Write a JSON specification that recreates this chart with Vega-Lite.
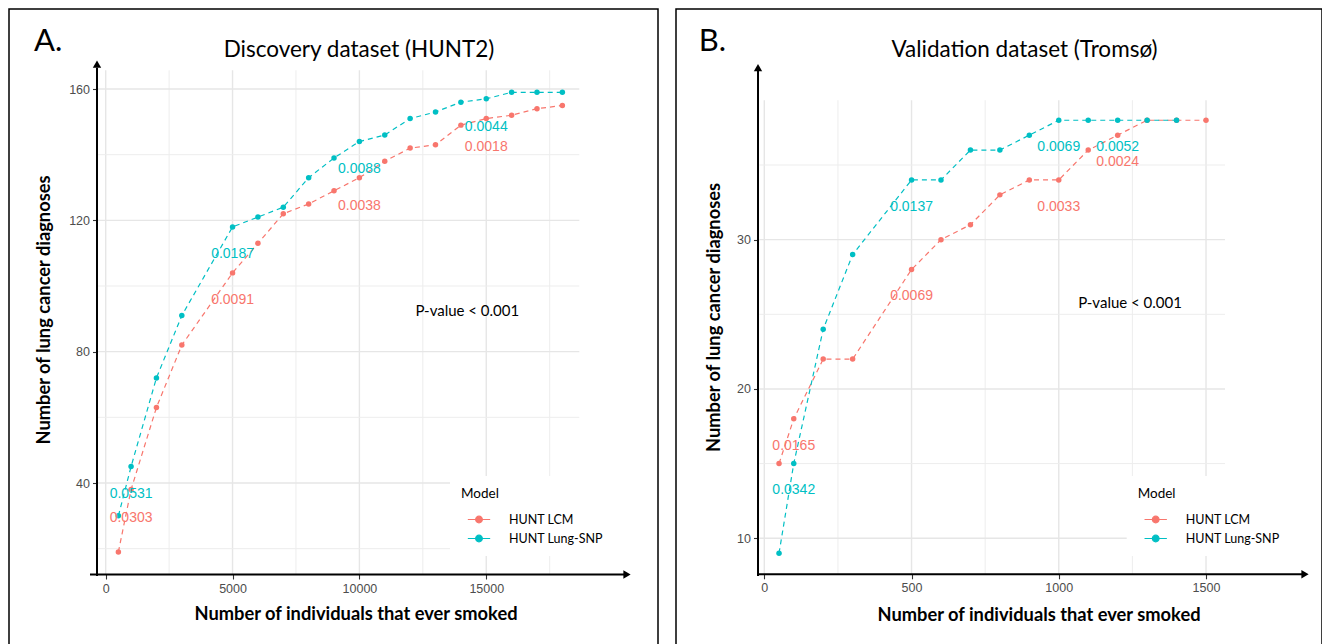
{
  "$schema": "https://vega.github.io/schema/vega-lite/v6.json",
  "background": "white",
  "padding": {"left": 8, "top": 8, "right": 0, "bottom": 0},
  "spacing": 18,
  "bounds": "flush",
  "config": {
    "view": {"stroke": "#000000", "strokeWidth": 1.5, "fill": "white"},
    "font": "Lato",
    "title": {"font": "Lato", "fontSize": 22.5, "fontWeight": "normal", "color": "#000000"},
    "axis": {"labelFont": "Liberation Sans", "labelFontSize": 12.5, "labelColor": "#4D4D4D", "tickColor": "#333333", "tickWidth": 1.1, "tickSize": 4.5, "labelPadding": 3, "domain": false, "grid": false, "titleFont": "Lato", "titleFontSize": 18.3, "titleFontWeight": "bold", "titleColor": "#000000", "labelFlush": false, "labelOverlap": false}
  },
  "resolve": {"scale": {"x": "independent", "y": "independent", "color": "independent"}, "legend": {"color": "independent"}},
  "datasets": {
    "hunt": [
      {"x": 500, "y": 19, "Model": "HUNT LCM"}, {"x": 1000, "y": 38, "Model": "HUNT LCM"}, {"x": 2000, "y": 63, "Model": "HUNT LCM"}, {"x": 3000, "y": 82, "Model": "HUNT LCM"}, {"x": 5000, "y": 104, "Model": "HUNT LCM"}, {"x": 6000, "y": 113, "Model": "HUNT LCM"}, {"x": 7000, "y": 122, "Model": "HUNT LCM"}, {"x": 8000, "y": 125, "Model": "HUNT LCM"}, {"x": 9000, "y": 129, "Model": "HUNT LCM"}, {"x": 10000, "y": 133, "Model": "HUNT LCM"}, {"x": 11000, "y": 138, "Model": "HUNT LCM"}, {"x": 12000, "y": 142, "Model": "HUNT LCM"}, {"x": 13000, "y": 143, "Model": "HUNT LCM"}, {"x": 14000, "y": 149, "Model": "HUNT LCM"}, {"x": 15000, "y": 151, "Model": "HUNT LCM"}, {"x": 16000, "y": 152, "Model": "HUNT LCM"}, {"x": 17000, "y": 154, "Model": "HUNT LCM"}, {"x": 18000, "y": 155, "Model": "HUNT LCM"},
      {"x": 500, "y": 30, "Model": "HUNT Lung-SNP"}, {"x": 1000, "y": 45, "Model": "HUNT Lung-SNP"}, {"x": 2000, "y": 72, "Model": "HUNT Lung-SNP"}, {"x": 3000, "y": 91, "Model": "HUNT Lung-SNP"}, {"x": 5000, "y": 118, "Model": "HUNT Lung-SNP"}, {"x": 6000, "y": 121, "Model": "HUNT Lung-SNP"}, {"x": 7000, "y": 124, "Model": "HUNT Lung-SNP"}, {"x": 8000, "y": 133, "Model": "HUNT Lung-SNP"}, {"x": 9000, "y": 139, "Model": "HUNT Lung-SNP"}, {"x": 10000, "y": 144, "Model": "HUNT Lung-SNP"}, {"x": 11000, "y": 146, "Model": "HUNT Lung-SNP"}, {"x": 12000, "y": 151, "Model": "HUNT Lung-SNP"}, {"x": 13000, "y": 153, "Model": "HUNT Lung-SNP"}, {"x": 14000, "y": 156, "Model": "HUNT Lung-SNP"}, {"x": 15000, "y": 157, "Model": "HUNT Lung-SNP"}, {"x": 16000, "y": 159, "Model": "HUNT Lung-SNP"}, {"x": 17000, "y": 159, "Model": "HUNT Lung-SNP"}, {"x": 18000, "y": 159, "Model": "HUNT Lung-SNP"}
    ],
    "tromso": [
      {"x": 50, "y": 15, "Model": "HUNT LCM"}, {"x": 100, "y": 18, "Model": "HUNT LCM"}, {"x": 200, "y": 22, "Model": "HUNT LCM"}, {"x": 300, "y": 22, "Model": "HUNT LCM"}, {"x": 500, "y": 28, "Model": "HUNT LCM"}, {"x": 600, "y": 30, "Model": "HUNT LCM"}, {"x": 700, "y": 31, "Model": "HUNT LCM"}, {"x": 800, "y": 33, "Model": "HUNT LCM"}, {"x": 900, "y": 34, "Model": "HUNT LCM"}, {"x": 1000, "y": 34, "Model": "HUNT LCM"}, {"x": 1100, "y": 36, "Model": "HUNT LCM"}, {"x": 1200, "y": 37, "Model": "HUNT LCM"}, {"x": 1300, "y": 38, "Model": "HUNT LCM"}, {"x": 1400, "y": 38, "Model": "HUNT LCM"}, {"x": 1500, "y": 38, "Model": "HUNT LCM"},
      {"x": 50, "y": 9, "Model": "HUNT Lung-SNP"}, {"x": 100, "y": 15, "Model": "HUNT Lung-SNP"}, {"x": 200, "y": 24, "Model": "HUNT Lung-SNP"}, {"x": 300, "y": 29, "Model": "HUNT Lung-SNP"}, {"x": 500, "y": 34, "Model": "HUNT Lung-SNP"}, {"x": 600, "y": 34, "Model": "HUNT Lung-SNP"}, {"x": 700, "y": 36, "Model": "HUNT Lung-SNP"}, {"x": 800, "y": 36, "Model": "HUNT Lung-SNP"}, {"x": 900, "y": 37, "Model": "HUNT Lung-SNP"}, {"x": 1000, "y": 38, "Model": "HUNT Lung-SNP"}, {"x": 1100, "y": 38, "Model": "HUNT Lung-SNP"}, {"x": 1200, "y": 38, "Model": "HUNT Lung-SNP"}, {"x": 1300, "y": 38, "Model": "HUNT Lung-SNP"}, {"x": 1400, "y": 38, "Model": "HUNT Lung-SNP"}
    ],
    "annA": [
      {"x": 1000, "y": 36.6, "label": "0.0531", "Model": "HUNT Lung-SNP"},
      {"x": 1000, "y": 29.3, "label": "0.0303", "Model": "HUNT LCM"},
      {"x": 5000, "y": 109.8, "label": "0.0187", "Model": "HUNT Lung-SNP"},
      {"x": 5000, "y": 95.7, "label": "0.0091", "Model": "HUNT LCM"},
      {"x": 10000, "y": 135.6, "label": "0.0088", "Model": "HUNT Lung-SNP"},
      {"x": 10000, "y": 124.4, "label": "0.0038", "Model": "HUNT LCM"},
      {"x": 15000, "y": 148.3, "label": "0.0044", "Model": "HUNT Lung-SNP"},
      {"x": 15000, "y": 142.4, "label": "0.0018", "Model": "HUNT LCM"}
    ],
    "annB": [
      {"x": 100, "y": 16.2, "label": "0.0165", "Model": "HUNT LCM"},
      {"x": 100, "y": 13.2, "label": "0.0342", "Model": "HUNT Lung-SNP"},
      {"x": 500, "y": 32.2, "label": "0.0137", "Model": "HUNT Lung-SNP"},
      {"x": 500, "y": 26.2, "label": "0.0069", "Model": "HUNT LCM"},
      {"x": 1000, "y": 36.2, "label": "0.0069", "Model": "HUNT Lung-SNP"},
      {"x": 1000, "y": 32.2, "label": "0.0033", "Model": "HUNT LCM"},
      {"x": 1200, "y": 36.2, "label": "0.0052", "Model": "HUNT Lung-SNP"},
      {"x": 1200, "y": 35.2, "label": "0.0024", "Model": "HUNT LCM"}
    ],
    "gridAx": [{"x": 0, "kind": "major"}, {"x": 2500, "kind": "minor"}, {"x": 5000, "kind": "major"}, {"x": 7500, "kind": "minor"}, {"x": 10000, "kind": "major"}, {"x": 12500, "kind": "minor"}, {"x": 15000, "kind": "major"}, {"x": 17500, "kind": "minor"}],
    "gridAy": [{"y": 20, "kind": "minor"}, {"y": 40, "kind": "major"}, {"y": 60, "kind": "minor"}, {"y": 80, "kind": "major"}, {"y": 100, "kind": "minor"}, {"y": 120, "kind": "major"}, {"y": 140, "kind": "minor"}, {"y": 160, "kind": "major"}],
    "gridBx": [{"x": 0, "kind": "major"}, {"x": 250, "kind": "minor"}, {"x": 500, "kind": "major"}, {"x": 750, "kind": "minor"}, {"x": 1000, "kind": "major"}, {"x": 1250, "kind": "minor"}, {"x": 1500, "kind": "major"}],
    "gridBy": [{"y": 10, "kind": "major"}, {"y": 15, "kind": "minor"}, {"y": 20, "kind": "major"}, {"y": 25, "kind": "minor"}, {"y": 30, "kind": "major"}, {"y": 35, "kind": "minor"}]
  },
  "hconcat": [
    {
      "width": 649,
      "height": 636,
      "title": {"text": "Discovery dataset (HUNT2)", "anchor": "middle", "frame": "group", "offset": -52, "dx": 25.5},
      "layer": [
        {"data": {"name": "gridAx"}, "mark": {"type": "rule"},
         "encoding": {"x": {"field": "x", "type": "quantitative"}, "y": {"datum": 12}, "y2": {"datum": 165.7},
                      "color": {"condition": {"test": "datum.kind === 'major'", "value": "#E6E6E6"}, "value": "#EDEDED"},
                      "strokeWidth": {"condition": {"test": "datum.kind === 'major'", "value": 1.4}, "value": 1.0}}},
        {"data": {"name": "gridAy"}, "mark": {"type": "rule"},
         "encoding": {"y": {"field": "y", "type": "quantitative"}, "x": {"datum": -315}, "x2": {"datum": 18668},
                      "color": {"condition": {"test": "datum.kind === 'major'", "value": "#E6E6E6"}, "value": "#EDEDED"},
                      "strokeWidth": {"condition": {"test": "datum.kind === 'major'", "value": 1.4}, "value": 1.0}}},
        {"data": {"values": [{}]}, "mark": {"type": "rule", "color": "#000000", "strokeWidth": 2},
         "encoding": {"x": {"datum": -343}, "y": {"datum": 11.7}, "y2": {"datum": 166.5}}},
        {"data": {"values": [{}]}, "mark": {"type": "rule", "color": "#000000", "strokeWidth": 2},
         "encoding": {"y": {"datum": 12.13}, "x": {"datum": -619}, "x2": {"datum": 20450}}},
        {"data": {"values": [{}]}, "mark": {"type": "point", "shape": "triangle-up", "filled": true, "size": 70, "color": "#000000", "opacity": 1},
         "encoding": {"x": {"datum": -343}, "y": {"datum": 167.6}}},
        {"data": {"values": [{}]}, "mark": {"type": "point", "shape": "triangle-right", "filled": true, "size": 70, "color": "#000000", "opacity": 1},
         "encoding": {"x": {"datum": 20548}, "y": {"datum": 12.13}}},
        {"data": {"name": "hunt"}, "mark": {"type": "line", "strokeDash": [5, 4], "strokeWidth": 1.2},
         "encoding": {
           "x": {"field": "x", "type": "quantitative", "scale": {"domain": [-3811.6, 21769.8], "nice": false, "zero": false},
                 "axis": {"title": "Number of individuals that ever smoked", "values": [0, 5000, 10000, 15000], "format": "d", "offset": -70.5, "titleX": 346.5, "titleY": 45, "titleBaseline": "alphabetic", "titleAlign": "center", "titleAnchor": null}},
           "y": {"field": "y", "type": "quantitative", "scale": {"domain": [-9.34, 184.37], "nice": false, "zero": false},
                 "axis": {"title": "Number of lung cancer diagnoses", "values": [40, 80, 120, 160], "format": "d", "offset": -88, "titleX": -47.5, "titleY": 300.5, "titleAngle": -90, "titleBaseline": "alphabetic", "titleAlign": "center", "titleAnchor": null}},
           "color": {"field": "Model", "type": "nominal", "scale": {"domain": ["HUNT LCM", "HUNT Lung-SNP"], "range": ["#F8766D", "#00BFC4"]},
                     "legend": {"orient": "none", "legendX": 441, "legendY": 467, "title": "Model", "titleFont": "Lato", "titleFontSize": 13.5, "titleFontWeight": "normal", "titleColor": "#000000", "titlePadding": 7,
                                "labelFont": "Lato", "labelFontSize": 12.5, "labelColor": "#000000", "fillColor": "white", "padding": 11,
                                "symbolType": "M-1,0H1M0.3,0A0.3,0.3,0,1,1,-0.3,0A0.3,0.3,0,1,1,0.3,0Z", "symbolSize": 500, "symbolStrokeWidth": 1.2, "symbolOffset": 6, "labelOffset": 18, "rowPadding": 0,
                                "encode": {"symbols": {"update": {"fill": [{"test": "datum.value === 'HUNT LCM'", "value": "#F8766D"}, {"value": "#00BFC4"}], "fillOpacity": {"value": 1}}}}}}
         }},
        {"data": {"name": "hunt"}, "mark": {"type": "point", "filled": true, "size": 30, "opacity": 1},
         "encoding": {"x": {"field": "x", "type": "quantitative"}, "y": {"field": "y", "type": "quantitative"},
                      "color": {"condition": {"test": "datum.Model === 'HUNT LCM'", "value": "#F8766D"}, "value": "#00BFC4"}}},
        {"data": {"name": "annA"}, "mark": {"type": "text", "font": "Liberation Sans", "fontSize": 14, "align": "center", "baseline": "middle"},
         "encoding": {"x": {"field": "x", "type": "quantitative"}, "y": {"field": "y", "type": "quantitative"}, "text": {"field": "label"},
                      "color": {"condition": {"test": "datum.Model === 'HUNT LCM'", "value": "#F8766D"}, "value": "#00BFC4"}}},
        {"data": {"values": [{}]}, "mark": {"type": "text", "font": "Lato", "fontSize": 15, "color": "#000000", "align": "center", "baseline": "middle", "text": "P-value < 0.001"},
         "encoding": {"x": {"datum": 14253}, "y": {"datum": 92.39}}},
        {"data": {"values": [{}]}, "mark": {"type": "text", "font": "Lato", "fontSize": 31, "color": "#000000", "align": "left", "baseline": "alphabetic", "text": "A."},
         "encoding": {"x": {"datum": -2826}, "y": {"datum": 171.6}}}
      ]
    },
    {
      "width": 646,
      "height": 636,
      "title": {"text": "Validation dataset (Tromsø)", "anchor": "middle", "frame": "group", "offset": -52, "dx": 25.5},
      "layer": [
        {"data": {"name": "gridBx"}, "mark": {"type": "rule"},
         "encoding": {"x": {"field": "x", "type": "quantitative"}, "y": {"datum": 7.59}, "y2": {"datum": 39.34},
                      "color": {"condition": {"test": "datum.kind === 'major'", "value": "#E6E6E6"}, "value": "#EDEDED"},
                      "strokeWidth": {"condition": {"test": "datum.kind === 'major'", "value": 1.4}, "value": 1.0}}},
        {"data": {"name": "gridBy"}, "mark": {"type": "rule"},
         "encoding": {"y": {"field": "y", "type": "quantitative"}, "x": {"datum": -16.9}, "x2": {"datum": 1564.5},
                      "color": {"condition": {"test": "datum.kind === 'major'", "value": "#E6E6E6"}, "value": "#EDEDED"},
                      "strokeWidth": {"condition": {"test": "datum.kind === 'major'", "value": 1.4}, "value": 1.0}}},
        {"data": {"values": [{}]}, "mark": {"type": "rule", "color": "#000000", "strokeWidth": 2},
         "encoding": {"x": {"datum": -21.4}, "y": {"datum": 7.47}, "y2": {"datum": 41.3}}},
        {"data": {"values": [{}]}, "mark": {"type": "rule", "color": "#000000", "strokeWidth": 2},
         "encoding": {"y": {"datum": 7.59}, "x": {"datum": -24}, "x2": {"datum": 1830}}},
        {"data": {"values": [{}]}, "mark": {"type": "point", "shape": "triangle-up", "filled": true, "size": 70, "color": "#000000", "opacity": 1},
         "encoding": {"x": {"datum": -21.4}, "y": {"datum": 41.53}}},
        {"data": {"values": [{}]}, "mark": {"type": "point", "shape": "triangle-right", "filled": true, "size": 70, "color": "#000000", "opacity": 1},
         "encoding": {"x": {"datum": 1836.2}, "y": {"datum": 7.59}}},
        {"data": {"name": "tromso"}, "mark": {"type": "line", "strokeDash": [5, 4], "strokeWidth": 1.2},
         "encoding": {
           "x": {"field": "x", "type": "quantitative", "scale": {"domain": [-299.9, 1893.9], "nice": false, "zero": false},
                 "axis": {"title": "Number of individuals that ever smoked", "values": [0, 500, 1000, 1500], "format": "d", "offset": -70.7, "titleX": 362.5, "titleY": 46, "titleBaseline": "alphabetic", "titleAlign": "center", "titleAnchor": null}},
           "y": {"field": "y", "type": "quantitative", "scale": {"domain": [2.85, 45.45], "nice": false, "zero": false},
                 "axis": {"title": "Number of lung cancer diagnoses", "values": [10, 20, 30], "format": "d", "offset": -82, "titleX": -39, "titleY": 308, "titleAngle": -90, "titleBaseline": "alphabetic", "titleAlign": "center", "titleAnchor": null}},
           "color": {"field": "Model", "type": "nominal", "scale": {"domain": ["HUNT LCM", "HUNT Lung-SNP"], "range": ["#F8766D", "#00BFC4"]},
                     "legend": {"orient": "none", "legendX": 450.7, "legendY": 467, "title": "Model", "titleFont": "Lato", "titleFontSize": 13.5, "titleFontWeight": "normal", "titleColor": "#000000", "titlePadding": 7,
                                "labelFont": "Lato", "labelFontSize": 12.5, "labelColor": "#000000", "fillColor": "white", "padding": 11,
                                "symbolType": "M-1,0H1M0.3,0A0.3,0.3,0,1,1,-0.3,0A0.3,0.3,0,1,1,0.3,0Z", "symbolSize": 500, "symbolStrokeWidth": 1.2, "symbolOffset": 6, "labelOffset": 18, "rowPadding": 0,
                                "encode": {"symbols": {"update": {"fill": [{"test": "datum.value === 'HUNT LCM'", "value": "#F8766D"}, {"value": "#00BFC4"}], "fillOpacity": {"value": 1}}}}}}
         }},
        {"data": {"name": "tromso"}, "mark": {"type": "point", "filled": true, "size": 30, "opacity": 1},
         "encoding": {"x": {"field": "x", "type": "quantitative"}, "y": {"field": "y", "type": "quantitative"},
                      "color": {"condition": {"test": "datum.Model === 'HUNT LCM'", "value": "#F8766D"}, "value": "#00BFC4"}}},
        {"data": {"name": "annB"}, "mark": {"type": "text", "font": "Liberation Sans", "fontSize": 14, "align": "center", "baseline": "middle"},
         "encoding": {"x": {"field": "x", "type": "quantitative"}, "y": {"field": "y", "type": "quantitative"}, "text": {"field": "label"},
                      "color": {"condition": {"test": "datum.Model === 'HUNT LCM'", "value": "#F8766D"}, "value": "#00BFC4"}}},
        {"data": {"values": [{}]}, "mark": {"type": "text", "font": "Lato", "fontSize": 15, "color": "#000000", "align": "center", "baseline": "middle", "text": "P-value < 0.001"},
         "encoding": {"x": {"datum": 1242}, "y": {"datum": 25.78}}},
        {"data": {"values": [{}]}, "mark": {"type": "text", "font": "Lato", "fontSize": 31, "color": "#000000", "align": "left", "baseline": "alphabetic", "text": "B."},
         "encoding": {"x": {"datum": -222.8}, "y": {"datum": 42.64}}}
      ]
    }
  ]
}
